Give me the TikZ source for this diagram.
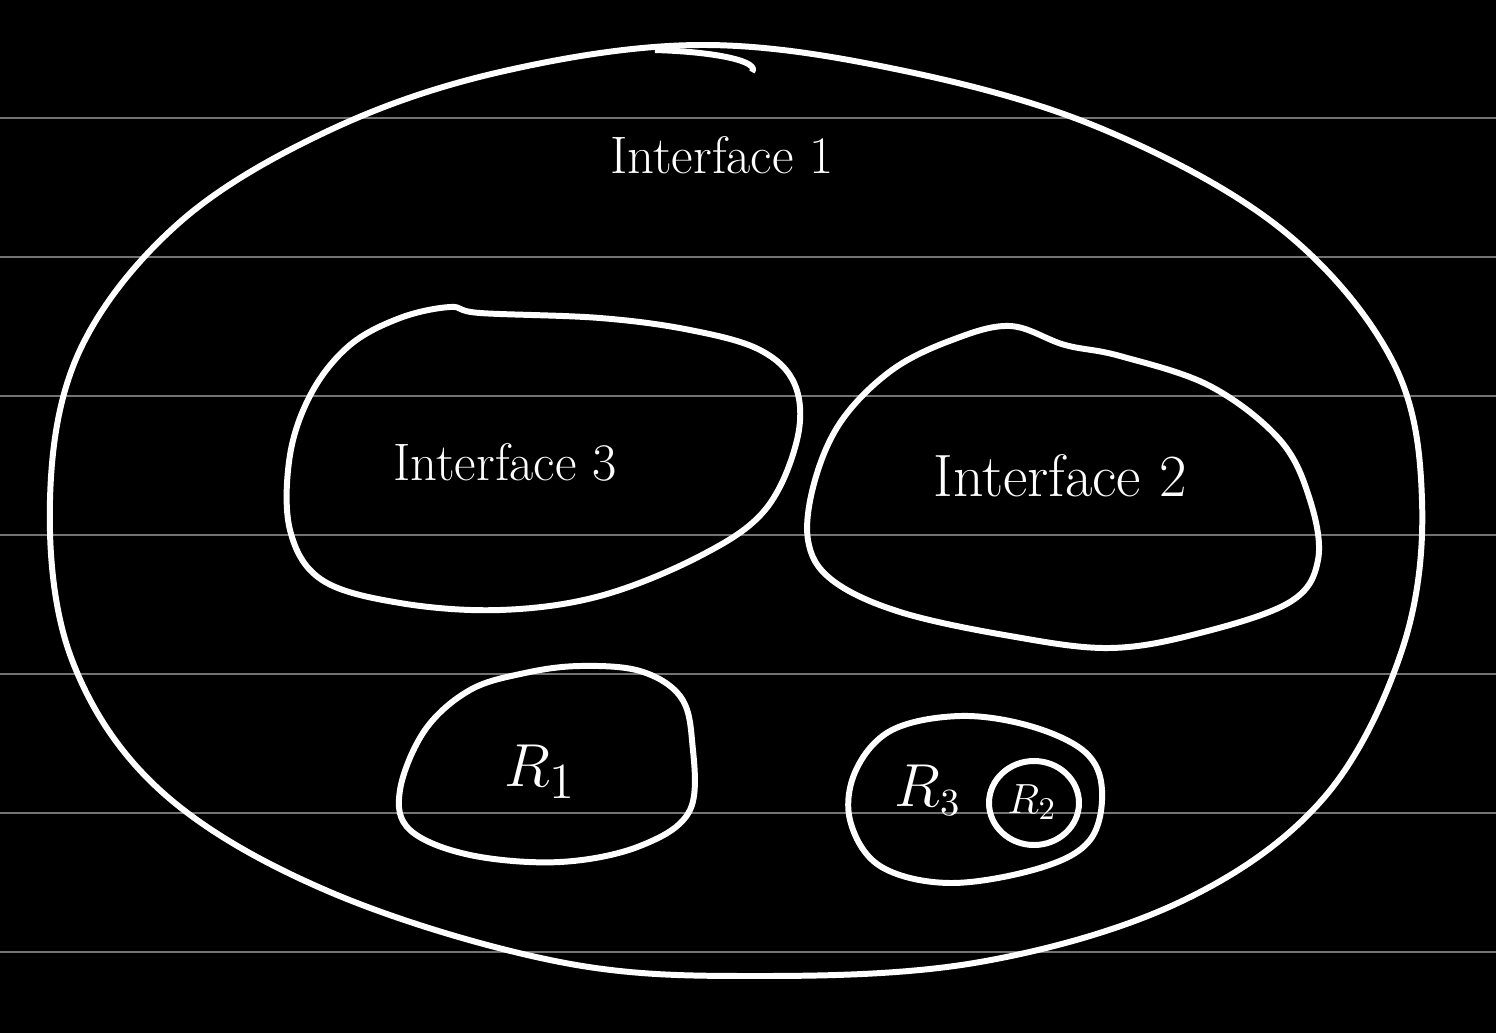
\documentclass[tikz,border=0pt]{standalone}
\usepackage{tikz}
\usetikzlibrary{positioning}

\begin{document}
\begin{tikzpicture}[x=0.01cm,y=-0.01cm]
      \tikzset{
        blob/.style={draw=white, line width=1.7pt, line join=round},
        rule/.style={draw=black!55, line width=0.6pt},
        lbl/.style={text=white, font=\fontsize{15}{18}\selectfont},
        rlbl/.style={text=white, font=\fontsize{19}{22}\selectfont}
      }

      % background and ruling
      \fill[black] (0,0) rectangle (1496,1033);
      \useasboundingbox (0,0) rectangle (1496,1033);
      \foreach \y in {118,257,396,535,674,813,952}
        \draw[rule] (0,\y) -- (1496,\y);

      % outer set
      \draw[blob] plot[smooth cycle, tension=0.6] coordinates {
        (700,45) (900,70) (1100,128) (1280,228) (1392,360) (1422,500)
        (1402,650) (1322,800) (1180,902) (980,962) (760,976) (560,962)
        (330,892) (162,792) (72,660) (50,500) (80,350) (180,222)
        (330,130) (500,72)};
      \draw[blob] (655,50) .. controls (720,52) and (760,62) .. (752,72);

      % interface 3
      \draw[blob] plot[smooth cycle, tension=0.6] coordinates {
        (450,307) (400,318) (350,345) (312,392) (290,455) (290,530)
        (322,580) (400,603) (500,610) (600,596) (700,556) (765,510)
        (797,440) (795,385) (760,350) (690,330) (600,318) (480,313)};

      % interface 2
      \draw[blob] plot[smooth cycle, tension=0.6] coordinates {
        (1065,345) (1120,356) (1210,386) (1280,440) (1310,500) (1318,560)
        (1290,602) (1200,633) (1110,648) (1010,636) (900,612) (832,580)
        (808,540) (815,480) (842,420) (892,370) (952,340) (1010,326)};

      % R1
      \draw[blob] plot[smooth cycle, tension=0.6] coordinates {
        (525,673) (470,690) (425,730) (400,790) (410,830) (470,855)
        (560,862) (640,846) (690,810) (692,740) (680,696) (640,671)
        (580,666)};

      % R3 and R2
      \draw[blob] plot[smooth cycle, tension=0.6] coordinates {
        (960,716) (1030,726) (1085,752) (1102,790) (1090,840) (1040,868)
        (950,883) (880,866) (850,820) (856,770) (892,730)};
      \draw[blob] (1034,803) ellipse [x radius=45, y radius=42];

      % labels
      \node[lbl] (if1) at (722,155) {Interface 1};
      \node[lbl] (if3) at (505,462) {Interface 3};
      \node[lbl, font=\fontsize{17}{20}\selectfont] (if2) at (1060,476) {Interface 2};
      \node[rlbl] (r1) at (540,772) {$R_1$};
      \node[rlbl, font=\fontsize{16}{19}\selectfont] (r3) at (928,790) {$R_3$};
      \node[rlbl, font=\fontsize{13}{16}\selectfont] (r2) at (1032,802) {$R_2$};

    \end{tikzpicture}
\end{document}
